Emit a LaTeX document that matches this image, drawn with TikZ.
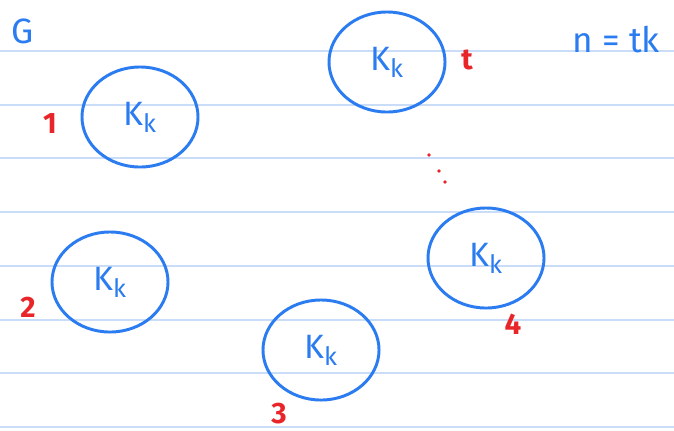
\documentclass[tikz,border=0pt]{standalone}
\usepackage{fontspec}
\setsansfont{Fira Sans}
\usetikzlibrary{shapes.geometric}
\definecolor{penblue}{HTML}{2B7CF0}
\definecolor{penred}{HTML}{E8262A}
\definecolor{rule}{HTML}{CADDF8}
\tikzset{
  clique/.style={ellipse,draw=penblue,line width=2.1pt,minimum width=2.9cm,minimum height=2.5cm,text=penblue,font=\sffamily\fontsize{24}{28}\selectfont},
  lab/.style={text=penred,font=\sffamily\bfseries\fontsize{21}{24}\selectfont},
  note/.style={text=penblue,font=\sffamily\fontsize{25}{28}\selectfont}
}
\newcommand{\kk}{K$_{\textsf{\fontsize{18}{20}\selectfont k}}$}
\begin{document}
\begin{tikzpicture}[x=0.025cm,y=-0.025cm]
\useasboundingbox (0,0) rectangle (674,430);
\fill[white] (0,0) rectangle (674,430);
\foreach \y in {51,105,158,212,266,320,373,427}
    \draw[rule,line width=1.2pt] (0,\y)--(674,\y);
\node[clique] (k1) at (140,117) {\kk};
\node[clique] (kt) at (387,62) {\kk};
\node[clique] (k2) at (110,282) {\kk};
\node[clique] (k3) at (321,350) {\kk};
\node[clique] (k4) at (486,258) {\kk};
\node[lab] (l1) at (50,124) {1};
\node[lab] (lt) at (467,60) {t};
\node[lab] (l2) at (28,307) {2};
\node[lab] (l3) at (279,414) {3};
\node[lab] (l4) at (513,324) {4};
\fill[penred] (429,155) circle (1.8);
\fill[penred] (439,171) circle (1.8);
\fill[penred] (445,182) circle (1.8);
\node[note] (g) at (23,31) {G};
\node[note] (n) at (616,40) {n = tk};
\end{tikzpicture}
\end{document}
